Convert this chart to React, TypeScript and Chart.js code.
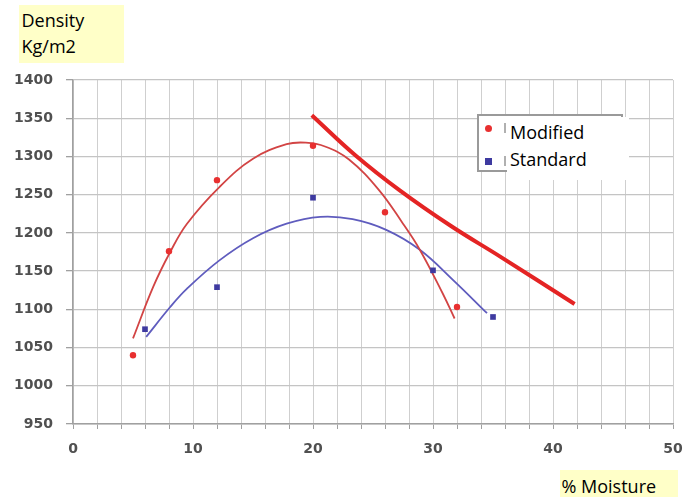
import React, { useEffect, useRef } from "react";
import { Chart, registerables } from "chart.js";

Chart.register(...registerables);

// Measured points
const modifiedX = [5, 8, 12, 20, 26, 32];
const modifiedY = [1040, 1176, 1269, 1314, 1227, 1103];
const standardX = [6, 12, 20, 30, 35];
const standardY = [1074, 1129, 1246, 1151, 1090];

// Trend curves
const modifiedTrendX = [5, 6.7, 8.1, 9.5, 12.2, 15, 17.8, 19.4, 21, 23, 25.5, 27.5, 28.9, 30.8, 31.8];
const modifiedTrendY = [1062, 1130, 1175, 1212, 1260, 1297, 1316, 1318, 1313, 1296, 1256, 1212, 1178, 1121, 1088];
const standardTrendX = [6.1, 8.1, 9.5, 12.2, 15, 17.8, 20.6, 23.3, 26.1, 28.9, 31.7, 34.5];
const standardTrendY = [1064, 1103, 1127, 1164, 1193, 1212, 1221, 1218, 1204, 1178, 1138, 1095];

// Thick red line
const thickX = [19.9, 23.5, 27.2, 31.5, 35.6, 41.8];
const thickY = [1354, 1302, 1256, 1209, 1169, 1107];

const X_MIN = 0;
const X_MAX = 50;
const X_STEP = 2;
const X_LABEL_EVERY = 10;
const Y_MIN = 950;
const Y_MAX = 1400;
const Y_STEP = 50;

const yLabelLines = ["Density", "Kg/m2"];
const xLabel = "% Moisture";
const legendLabels = ["Modified", "Standard"];

const zip = (xs: number[], ys: number[]) => xs.map((x, i) => ({ x, y: ys[i] }));

export default function App() {
  const ref = useRef<HTMLCanvasElement | null>(null);

  useEffect(() => {
    if (!ref.current) return;
    const tickFont = { family: "'DejaVu Sans'", size: 14, weight: "bold" as const };
    const chart = new Chart(ref.current, {
      type: "scatter",
      data: {
        datasets: [
          {
            label: "Modified",
            data: zip(modifiedX, modifiedY),
            pointStyle: "circle",
            pointRadius: 3.2,
            backgroundColor: "rgb(232,48,48)",
            borderColor: "rgb(232,48,48)",
            borderWidth: 0,
            showLine: false,
          },
          {
            label: "Standard",
            data: zip(standardX, standardY),
            pointStyle: "rect",
            pointRadius: 4,
            backgroundColor: "rgb(62,58,160)",
            borderColor: "rgb(62,58,160)",
            borderWidth: 0,
            showLine: false,
          },
          {
            label: "Modified trend",
            data: zip(modifiedTrendX, modifiedTrendY),
            showLine: true,
            pointRadius: 0,
            borderColor: "rgb(210,68,68)",
            borderWidth: 1.8,
            tension: 0.4,
            fill: false,
          },
          {
            label: "Standard trend",
            data: zip(standardTrendX, standardTrendY),
            showLine: true,
            pointRadius: 0,
            borderColor: "rgb(95,92,190)",
            borderWidth: 1.8,
            tension: 0.4,
            fill: false,
          },
          {
            label: "Saturation",
            data: zip(thickX, thickY),
            showLine: true,
            pointRadius: 0,
            borderColor: "rgb(228,36,36)",
            borderWidth: 4,
            tension: 0.4,
            fill: false,
          },
        ],
      },
      options: {
        responsive: false,
        animation: false,
        devicePixelRatio: 1,
        layout: { padding: { top: 80, right: 0, left: 0, bottom: 0 } },
        plugins: {
          legend: { display: false },
          tooltip: { enabled: false },
          title: { display: false },
        },
        scales: {
          x: {
            type: "linear",
            min: X_MIN,
            max: X_MAX,
            afterFit: (s: any) => {
              s.height = 73;
              s.paddingLeft = 0;
              s.paddingRight = 10;
            },
            border: { color: "#a0a0a0", width: 1.5 },
            grid: {
              color: "#cfcfcf",
              lineWidth: 1,
              drawTicks: true,
              tickLength: 5,
              tickColor: "#a0a0a0",
            },
            ticks: {
              stepSize: X_STEP,
              autoSkip: false,
              maxRotation: 0,
              padding: 12,
              color: "#505050",
              font: tickFont,
              callback: (v: any) => (Number(v) % X_LABEL_EVERY === 0 ? String(v) : ""),
            },
          },
          y: {
            type: "linear",
            min: Y_MIN,
            max: Y_MAX,
            afterFit: (s: any) => {
              s.width = 73;
              s.paddingTop = 0;
              s.paddingBottom = 0;
            },
            border: { color: "#a0a0a0", width: 1.5 },
            grid: {
              color: "#c4c4c4",
              lineWidth: 1.3,
              drawTicks: true,
              tickLength: 7,
              tickColor: "#a0a0a0",
            },
            ticks: {
              stepSize: Y_STEP,
              padding: 13,
              color: "#505050",
              font: tickFont,
              callback: (v: any) => String(v),
            },
          },
        },
      } as any,
    });
    return () => chart.destroy();
  }, []);

  const textFont = "'Open Sans', 'Noto Sans', sans-serif";

  return (
    <div style={{ position: "absolute", left: 0, top: 0, width: 683, height: 497, overflow: "hidden", background: "#fff" }}>
      <canvas ref={ref} width={683} height={497} style={{ display: "block", width: 683, height: 497 }} />

      {/* Y axis title */}
      <div
        style={{
          position: "absolute",
          left: 19,
          top: 5,
          width: 105,
          height: 58,
          background: "#ffffc8",
          boxSizing: "border-box",
          paddingLeft: 2.5,
          paddingTop: 2.3,
          fontFamily: textFont,
          fontSize: 18,
          lineHeight: "26px",
          color: "#000",
        }}
      >
        {yLabelLines.map((l) => (
          <div key={l}>{l}</div>
        ))}
      </div>

      {/* X axis title */}
      <div
        style={{
          position: "absolute",
          left: 560,
          top: 470,
          width: 118,
          height: 27,
          overflow: "hidden",
          background: "#ffffc8",
          boxSizing: "border-box",
          paddingLeft: 1.5,
          paddingTop: 2.5,
          fontFamily: textFont,
          fontSize: 18,
          lineHeight: "27px",
          color: "#000",
          whiteSpace: "nowrap",
        }}
      >
        {xLabel}
      </div>

      {/* Legend frame */}
      <div
        style={{
          position: "absolute",
          left: 477,
          top: 114,
          width: 146,
          height: 58,
          border: "2px solid #9a9a9a",
          boxSizing: "border-box",
          background: "#fff",
        }}
      />
      <div style={{ position: "absolute", left: 484.5, top: 124.5, width: 7, height: 7, borderRadius: "50%", background: "rgb(232,48,48)" }} />
      <div style={{ position: "absolute", left: 484.5, top: 157.5, width: 7, height: 7, background: "rgb(62,58,160)" }} />
      <div style={{ position: "absolute", left: 504, top: 123, width: 2, height: 10, background: "#b0b0b0" }} />
      <div style={{ position: "absolute", left: 504, top: 156, width: 2, height: 10, background: "#b0b0b0" }} />
      <div
        style={{
          position: "absolute",
          left: 507,
          top: 117,
          width: 122,
          height: 63,
          background: "#fff",
          boxSizing: "border-box",
          paddingLeft: 3,
          paddingTop: 2,
          fontFamily: textFont,
          fontSize: 18,
          lineHeight: "27px",
          color: "#000",
          whiteSpace: "nowrap",
        }}
      >
        {legendLabels.map((l) => (
          <div key={l}>{l}</div>
        ))}
      </div>
    </div>
  );
}
